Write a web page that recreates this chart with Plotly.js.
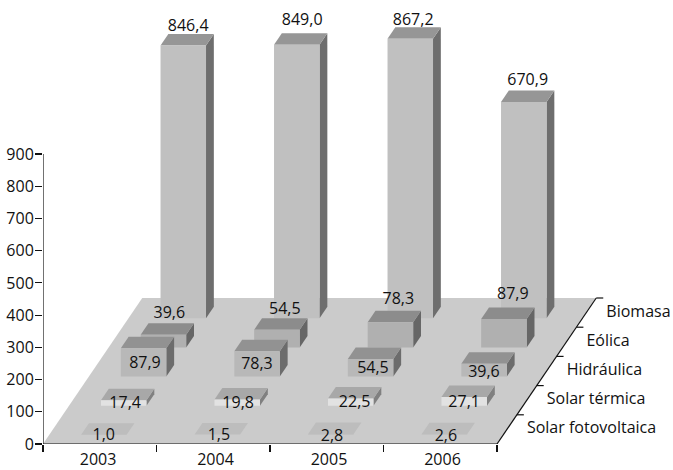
<!DOCTYPE html>
<html><head><meta charset="utf-8">
<script src="https://cdn.plot.ly/plotly-3.0.1.min.js"></script>
<style>html,body{margin:0;padding:0;background:#fff}#c{width:673px;height:470px}</style></head>
<body><div id="c"></div>
<script>
// Data
const years = ['2003','2004','2005','2006'];
const seriesNames = ['Solar fotovoltaica','Solar térmica','Hidráulica','Eólica','Biomasa'];
const solarFV = [1.0,1.5,2.8,2.6];
const solarTerm = [17.4,19.8,22.5,27.1];
const hidraulica = [87.9,78.3,54.5,39.6];
const eolica = [39.6,54.5,78.3,87.9];
const biomasa = [846.4,849.0,867.2,670.9];
const seriesValues = [solarFV,solarTerm,hidraulica,eolica,biomasa];
const yTicks = [0,100,200,300,400,500,600,700,800,900];

// Style and oblique projection settings
const faceColors = [
 {front:'#c2c2c2',top:'#bdbdbd',side:'#a8a8a8'},
 {front:'#e2e2e2',top:'#a8a8a8',side:'#808080'},
 {front:'#b8b8b8',top:'#929292',side:'#6c6c6c'},
 {front:'#b0b0b0',top:'#8c8c8c',side:'#666666'},
 {front:'#c0c0c0',top:'#969696',side:'#6e6e6e'}];
const floorColor='#cbcbcb', axisColor='#111111', textColor='#111111', font="Open Sans", fontSize=16;
const PX=113.5, PY=0.3222, W=673, H=470, ML=43, MB=26;
const DX=19.85/PX, DY=29.2/PY;      // shift of one depth row, in axis units
const GAPX=32/PX, GAPD=9/29.2, BW=45.5/PX, BD=11.5/29.2;
const proj=(x,v,d)=>[x+d*DX, v+d*DY];
// hand placement of each value label, in pixels [right, up], per depth row
const labelNudge=[
 [[-4,-11],[-2.4,-11],[-2.8,-12.4],[-2.4,-12.3]],
 [[-2.5,-13.3],[-3,-14],[0,-14],[-4,-15.4]],
 [[-2.5,-25],[-4,-23],[-1.5,-19.5],[-4,-18.7]],
 [[2,11],[4,10],[4,12.7],[5,14.6]],
 [[1,9],[1.5,14],[-1,8],[0,11.5]]];
const labelDrop=2;

const traces=[];
function poly(pts,color){
  const p=pts.map(q=>proj(q[0],q[1],q[2]));
  traces.push({type:'scatter',mode:'lines',x:p.map(a=>a[0]).concat(p[0][0]),y:p.map(a=>a[1]).concat(p[0][1]),
    fill:'toself',fillcolor:color,line:{width:0,color:color},hoverinfo:'skip',showlegend:false});
}
function seg(a,b){
  const p=proj(a[0],a[1],a[2]),q=proj(b[0],b[1],b[2]);
  traces.push({type:'scatter',mode:'lines',x:[p[0],q[0]],y:[p[1],q[1]],line:{width:1.2,color:axisColor},hoverinfo:'skip',showlegend:false});
}
// floor
poly([[0,0,0],[4,0,0],[4,0,5],[0,0,5]],floorColor);
// bars, back to front
for(let r=4;r>=0;r--){
  seriesValues[r].forEach((v,i)=>{
    const x0=i+GAPX,x1=x0+BW,d0=r+GAPD,d1=d0+BD,c=faceColors[r];
    poly([[x1,0,d0],[x1,0,d1],[x1,v,d1],[x1,v,d0]],c.side);
    poly([[x0,v,d0],[x1,v,d0],[x1,v,d1],[x0,v,d1]],c.top);
    poly([[x0,0,d0],[x1,0,d0],[x1,v,d0],[x0,v,d0]],c.front);
  });
}
// axes lines
seg([0,0,0],[0,900,0]);
seg([0,0,0],[4,0,0]);
seg([4,0,0],[4,0,5]);
for(let r=1;r<=5;r++) seg([4,0,r],[4+7/PX,0,r]);
// value labels
const lx=[],ly=[],lt=[];
seriesValues.forEach((vals,r)=>vals.forEach((v,i)=>{
  const n=labelNudge[r][i];
  const p=proj(i+GAPX+(BW+BD*DX)/2-BD*DX+n[0]/PX,v+(n[1]-labelDrop)/PY,r+GAPD+BD);
  lx.push(p[0]);ly.push(p[1]);lt.push(v.toFixed(1).replace('.',','));
}));
traces.push({type:'scatter',mode:'text',x:lx,y:ly,text:lt,textposition:'middle center',
  textfont:{family:font,size:fontSize,color:textColor},hoverinfo:'skip',showlegend:false});
// depth labels
const dLab=seriesNames.map((n,r)=>proj(4+20/PX,0,r+0.5));
traces.push({type:'scatter',mode:'text',x:dLab.map(a=>a[0]),y:dLab.map(a=>a[1]),text:seriesNames,textposition:'middle right',
  textfont:{family:font,size:fontSize,color:textColor},hoverinfo:'skip',showlegend:false});

const layout={width:W,height:H,margin:{l:ML,r:0,t:0,b:MB},paper_bgcolor:'#fff',plot_bgcolor:'#fff',showlegend:false,
 font:{family:font,size:fontSize,color:textColor},
 xaxis:{range:[0,(W-ML)/PX],tickmode:'array',tickvals:[0.485,1.52,2.52,3.52],ticktext:years,ticks:'',showgrid:false,zeroline:false,showline:false,
   minor:{tickmode:'array',tickvals:[0,1,2,3,4],ticks:'outside',ticklen:7,tickwidth:1.2,tickcolor:axisColor,showgrid:false},
   ticklabelstandoff:4,tickfont:{family:font,size:fontSize,color:textColor}},
 yaxis:{range:[0,(H-MB)/PY],tickmode:'array',tickvals:yTicks,ticks:'outside',ticklen:7,tickwidth:1.2,tickcolor:axisColor,showgrid:false,zeroline:false,showline:false,
   ticklabelstandoff:-2,tickfont:{family:font,size:fontSize,color:textColor}}
};
Plotly.newPlot('c',traces,layout,{displayModeBar:false,staticPlot:true});
</script></body></html>
